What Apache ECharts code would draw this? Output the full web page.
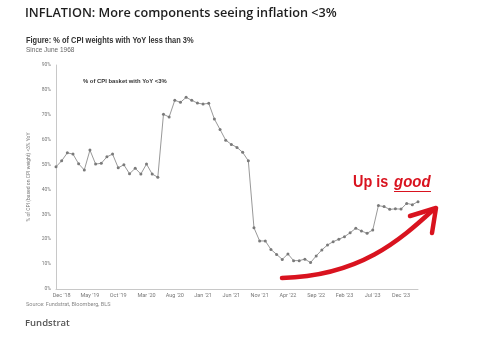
<!DOCTYPE html>
<html>
<head>
<meta charset="utf-8">
<script src="https://cdn.jsdelivr.net/npm/echarts@6/dist/echarts.min.js"></script>
<style>html,body{margin:0;padding:0;background:#fff;}#c{width:500px;height:338px;}</style>
</head>
<body>
<div id="c"></div>
<script>
const months = ["Nov '18","Dec '18",
"Jan '19","Feb '19","Mar '19","Apr '19","May '19","Jun '19","Jul '19","Aug '19","Sep '19","Oct '19","Nov '19","Dec '19",
"Jan '20","Feb '20","Mar '20","Apr '20","May '20","Jun '20","Jul '20","Aug '20","Sep '20","Oct '20","Nov '20","Dec '20",
"Jan '21","Feb '21","Mar '21","Apr '21","May '21","Jun '21","Jul '21","Aug '21","Sep '21","Oct '21","Nov '21","Dec '21",
"Jan '22","Feb '22","Mar '22","Apr '22","May '22","Jun '22","Jul '22","Aug '22","Sep '22","Oct '22","Nov '22","Dec '22",
"Jan '23","Feb '23","Mar '23","Apr '23","May '23","Jun '23","Jul '23","Aug '23","Sep '23","Oct '23","Nov '23","Dec '23",
"Jan '24","Feb '24","Mar '24"];
const shareBelow3 = [49.1,51.5,54.7,54.2,50.3,47.8,55.8,50.2,50.5,53.1,54.2,48.7,49.9,46.3,48.5,46.2,50.2,46.2,44.9,
70.2,69.1,75.8,75.0,77.0,75.8,74.7,74.3,74.6,68.3,64.1,59.8,58.1,56.9,54.9,51.5,
24.6,19.3,19.3,15.9,13.9,11.9,14.1,11.4,11.4,12.0,10.6,13.3,15.7,17.7,19.0,20.0,21.0,22.6,24.4,23.3,22.4,23.7,
33.5,33.1,32.0,32.2,32.1,34.4,33.9,35.1];
const labelEvery = 5;
const labelStart = 1;

const lib = "'Liberation Sans', Arial, sans-serif";
const chart = echarts.init(document.getElementById('c'));
const red = '#d9131f';
function t(x, y, text, st, sx) {
  return { type: 'text', x: x, y: y, scaleX: sx || 1,
    style: Object.assign({ text: text, textVerticalAlign: 'top', fontFamily: lib }, st) };
}
chart.setOption({
  backgroundColor: '#ffffff',
  animation: false,
  grid: { left: 56, right: 82, top: 65, bottom: 49 },
  xAxis: {
    type: 'category',
    data: months,
    boundaryGap: false,
    axisLine: { lineStyle: { color: '#c8c8c8', width: 1 } },
    axisTick: { show: false },
    axisLabel: {
      interval: (i) => (i - labelStart) % labelEvery === 0 && i >= labelStart,
      fontSize: 5.5, color: '#777', margin: 4, fontFamily: 'Roboto'
    },
    splitLine: { show: false }
  },
  yAxis: {
    type: 'value', min: 0, max: 90, interval: 10,
    axisLine: { show: true, lineStyle: { color: '#c8c8c8', width: 1 } },
    axisTick: { show: false },
    splitLine: { show: false },
    axisLabel: { formatter: '{value}%', fontSize: 5, color: '#777', margin: 5, fontFamily: 'Roboto' },
    name: '% of CPI (based on CPI weight) <3% YoY',
    nameLocation: 'middle', nameRotate: 90, nameGap: 24,
    nameTextStyle: { fontSize: 5, color: '#777', fontFamily: 'Roboto' }
  },
  series: [{
    type: 'line',
    data: shareBelow3,
    symbol: 'circle', symbolSize: 3,
    lineStyle: { color: '#999', width: 1 },
    itemStyle: { color: '#7a7a7a' }
  }],
  graphic: [
    { type: 'text', left: 25, top: 7, style: { text: 'INFLATION: More components seeing inflation <3%', fontSize: 12.7, fontWeight: 600, fill: '#1e1e1e', fontFamily: 'Open Sans' } },
    t(26, 37, 'Figure: % of CPI weights with YoY less than 3%', { fontSize: 8.2, fontWeight: 'bold', fill: '#333' }, 0.91),
    t(26, 47, 'Since June 1968', { fontSize: 6.5, fill: '#666' }, 1),
    t(83, 78, '% of CPI basket with YoY <3%', { fontSize: 6, fontWeight: 'bold', fill: '#333' }, 0.98),
    t(26, 302, 'Source: Fundstrat, Bloomberg, BLS', { fontSize: 5.5, fill: '#888', fontFamily: 'Roboto' }),
    { type: 'text', left: 25, top: 318, style: { text: 'Fundstrat', fontSize: 9.5, fontWeight: 600, fill: '#555', fontFamily: 'Open Sans' } },
    t(353, 174, 'Up is', { fontSize: 17, fontWeight: 'bold', fill: red }, 0.85),
    t(394, 174, 'good', { fontSize: 17, fontWeight: 'bold', fontStyle: 'italic', fill: red }, 0.88),
    { type: 'line', shape: { x1: 394, y1: 191.5, x2: 431, y2: 191.5 }, style: { stroke: red, lineWidth: 1.2 } },
    { type: 'bezierCurve', shape: { x1: 282, y1: 278, cpx1: 360, cpy1: 276, cpx2: 400, cpy2: 240, x2: 433, y2: 210 },
      style: { stroke: red, lineWidth: 4.5, fill: null, lineCap: 'round' } },
    { type: 'polyline', shape: { points: [[410, 216], [436, 208], [432, 233]] },
      style: { stroke: red, lineWidth: 4.5, fill: null, lineCap: 'round', lineJoin: 'round' } }
  ]
});
</script>
</body>
</html>
